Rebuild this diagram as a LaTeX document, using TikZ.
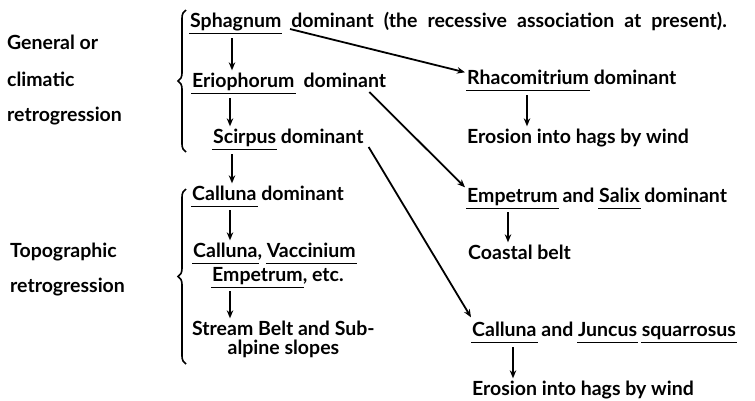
\documentclass[tikz,border=0pt]{standalone}
\usepackage{fontspec}
\setmainfont{Lato}
\usetikzlibrary{arrows.meta,positioning,calc,decorations.pathreplacing}
\newcommand{\genus}[1]{\setbox0\hbox{#1}\rlap{\kern-1pt\rule[-7pt]{\dimexpr\wd0+2pt\relax}{1.5pt}}\box0\relax}

\begin{document}
\begin{tikzpicture}[x=1pt,y=-1pt,
  txt/.style={anchor=base west,inner sep=0pt,font=\fontsize{19.5}{19}\selectfont\bfseries},
  arr/.style={-{Stealth[length=8pt,width=6.5pt]},line width=1.8pt},
  bracedeco/.style={decorate,decoration={brace,amplitude=8pt},line width=1.6pt}]
  \useasboundingbox (0,0) rectangle (755,400);
  % side labels
  \node[txt] (gen1) at (7,49) {General or};
  \node[txt] (gen2) at (7,86) {climatic};
  \node[txt] (gen3) at (7,121) {retrogression};
  \node[txt] (top1) at (10,257) {Topographic};
  \node[txt] (top2) at (10,292) {retrogression};
  \draw[bracedeco] (186,152) -- (186,10);
  \draw[bracedeco] (186,364) -- (186,189);
  % left column
  \node[txt] (sph) at (190,27) {\spaceskip=10pt plus 2pt\genus{Sphagnum} dominant (the recessive association at present).};
  \node[txt] (eri) at (192,87) {\spaceskip=9pt plus 2pt\genus{Eriophorum} dominant};
  \node[txt] (sci) at (213,143) {\genus{Scirpus} dominant};
  \node[txt] (cal1) at (192,200) {\genus{Calluna} dominant};
  \node[txt] (cal2) at (193,257) {\genus{Calluna}, \genus{Vaccinium}};
  \node[txt] (emp1) at (212,281) {\genus{Empetrum}, etc.};
  \node[txt,align=center] (str) at (192,354) {Stream Belt and Sub-\\alpine slopes};
  % right column
  \node[txt] (rha) at (467,84) {\genus{Rhacomitrium} dominant};
  \node[txt] (ero1) at (467,143) {Erosion into hags by wind};
  \node[txt] (emp2) at (467,202) {\genus{Empetrum} and \genus{Salix} dominant};
  \node[txt] (coast) at (468,259) {Coastal belt};
  \node[txt] (cal3) at (472,336) {\genus{Calluna} and \genus{Juncus} \genus{squarrosus}};
  \node[txt] (ero2) at (472,395) {Erosion into hags by wind};
  % vertical arrows
  \draw[arr] ([xshift=42pt,yshift=-4pt]sph.south west) -- ([xshift=42pt,yshift=2pt]sph.south west |- eri.north);
  \draw[arr] ([xshift=38pt,yshift=-4pt]eri.south west) -- ([xshift=38pt,yshift=2pt]eri.south west |- sci.north);
  \draw[arr] ([xshift=19pt,yshift=-4pt]sci.south west) -- ([xshift=19pt,yshift=2pt]sci.south west |- cal1.north);
  \draw[arr] ([xshift=38pt,yshift=-3pt]cal1.south west) -- ([xshift=38pt,yshift=2pt]cal1.south west |- cal2.north);
  \draw[arr] ([xshift=18pt,yshift=-3pt]emp1.south west) -- ([xshift=18pt,yshift=2pt]emp1.south west |- str.north);
  \draw[arr] ([xshift=60pt,yshift=-4pt]rha.south west) -- ([xshift=60pt,yshift=2pt]rha.south west |- ero1.north);
  \draw[arr] ([xshift=41pt,yshift=-3pt]emp2.south west) -- ([xshift=41pt,yshift=2pt]emp2.south west |- coast.north);
  \draw[arr] ([xshift=41pt,yshift=-4pt]cal3.south west) -- ([xshift=41pt,yshift=2pt]cal3.south west |- ero2.north);
  % diagonal arrows
  \draw[arr] ([xshift=100pt,yshift=-2pt]sph.base west) -- ([xshift=-2pt,yshift=-3pt]rha.north west);
  \draw[arr] ([xshift=-17pt,yshift=-5pt]eri.base east) -- ([xshift=-2pt]emp2.north west);
  \draw[arr] ([xshift=5pt,yshift=-4pt]sci.base east) -- ([xshift=-1pt,yshift=4pt]cal3.north west);
\end{tikzpicture}
\end{document}
